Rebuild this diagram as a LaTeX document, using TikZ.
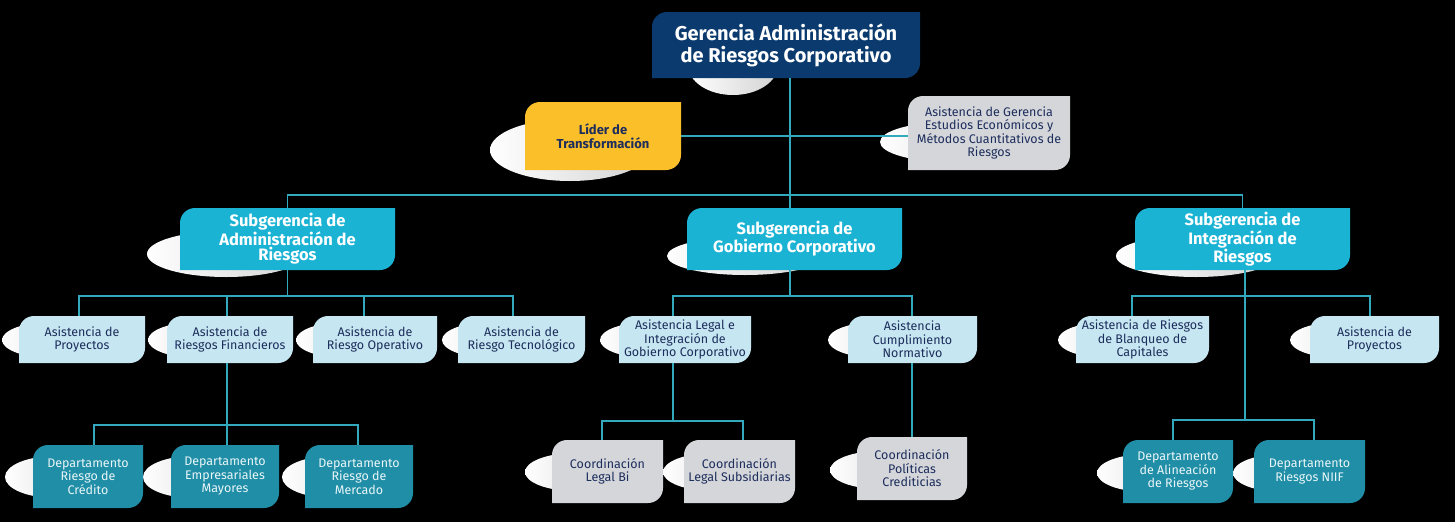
\documentclass[tikz,border=0pt]{standalone}
\usepackage{fontspec}
\setmainfont{Fira Sans}
\definecolor{navy}{HTML}{0B3B6E}
\definecolor{yel}{HTML}{FBBF2A}
\definecolor{grayb}{HTML}{D4D6DA}
\definecolor{cyanb}{HTML}{1BB3D4}
\definecolor{lightb}{HTML}{C6E7F1}
\definecolor{tealb}{HTML}{1F8EA6}
\definecolor{linec}{HTML}{33A9BD}
\definecolor{txtd}{HTML}{1D2D5C}
\definecolor{txtl}{HTML}{EAF6F8}
\tikzset{
  conn/.style={draw=linec, line width=1.1pt},
  obase/.style={rectangle, inner sep=0pt, align=center},
  tone/.style={text=white, font=\bfseries\fontsize{20}{22}\selectfont},
  ttwo/.style={text=white, font=\bfseries\fontsize{16.5}{15.5}\selectfont},
  tlid/.style={text=txtd, font=\bfseries\fontsize{13}{14.5}\selectfont},
  tthree/.style={text=txtd, font=\fontsize{12.5}{13.5}\selectfont},
  tfour/.style={text=txtl, font=\fontsize{12.5}{13.5}\selectfont},
  shadow/.style={left color=white, right color=gray!35},
}
% box with rounded top-left and bottom-right corners (radius 15)
\newcommand\obox[8]{%
  \fill[#2] (#4,#7) -- (#4,{#5+15}) .. controls (#4,{#5+6.7}) and ({#4+6.7},#5) .. ({#4+15},#5) -- (#6,#5)
     -- (#6,{#7-15}) .. controls (#6,{#7-6.7}) and ({#6-6.7},#7) .. ({#6-15},#7) -- cycle;
  \node[obase, #3, minimum width={(#6-#4)*1pt}, minimum height={(#7-#5)*1pt}] (#1) at ({(#4+#6)/2},{(#5+#7)/2}) {#8};
}
\newcommand\oell[4]{\shade[shadow] (#1,#2) ellipse [x radius=#3pt, y radius=#4pt];}
\begin{document}
\begin{tikzpicture}[x=1pt,y=-1pt]
\useasboundingbox[fill=black] (0,0) rectangle (1455,522);
% shadows
\oell{733}{65}{45}{30}
\oell{570}{150}{80}{31}
\oell{950}{142}{70}{20}
\oell{226}{254}{79}{23}
\oell{745}{256}{78}{19}
\oell{1196}{256}{80}{21}
\foreach \cx in {52,198,346,492,650,878,1108,1340}{\oell{\cx}{340}{50}{18}}
\foreach \cx in {55,193,332}{\oell{\cx}{477}{50}{21}}
\foreach \cx in {575,713}{\oell{\cx}{472}{50}{19}}
\oell{880}{470}{50}{19}
\foreach \cx in {1147,1283}{\oell{\cx}{473}{50}{19}}
% boxes
\obox{top}{navy}{tone}{652}{12}{920}{78}{Gerencia Administración\\de Riesgos Corporativo}
\obox{lider}{yel}{tlid}{525}{102}{681}{170}{Líder de\\Transformación}
\obox{asg}{grayb}{tthree}{908}{96}{1070}{170}{Asistencia de Gerencia\\Estudios Económicos y\\Métodos Cuantitativos de\\Riesgos}
\obox{sga}{cyanb}{ttwo}{180}{208}{395}{270}{Subgerencia de\\Administración de\\Riesgos}
\obox{sgc}{cyanb}{ttwo}{687}{208}{902}{270}{Subgerencia de\\Gobierno Corporativo}
\obox{sgi}{cyanb}{ttwo}{1135}{208}{1350}{270}{Subgerencia de\\Integración de\\Riesgos}
\obox{a1}{lightb}{tthree}{19}{316}{145}{363}{Asistencia de\\Proyectos}
\obox{a2}{lightb}{tthree}{167}{316}{293}{363}{Asistencia de\\Riesgos Financieros}
\obox{a3}{lightb}{tthree}{313}{316}{437}{363}{Asistencia de\\Riesgo Operativo}
\obox{a4}{lightb}{tthree}{458}{316}{585}{363}{Asistencia de\\Riesgo Tecnológico}
\obox{c1}{lightb}{tthree}{619}{316}{751}{363}{Asistencia Legal e\\Integración de\\Gobierno Corporativo}
\obox{c2}{lightb}{tthree}{848}{316}{977}{363}{Asistencia\\Cumplimiento\\Normativo}
\obox{i1}{lightb}{tthree}{1076}{316}{1209}{363}{Asistencia de Riesgos\\de Blanqueo de\\Capitales}
\obox{i2}{lightb}{tthree}{1310}{316}{1439}{363}{Asistencia de\\Proyectos}
\obox{d1}{tealb}{tfour}{33}{445}{143}{508}{Departamento\\Riesgo de\\Crédito}
\obox{d2}{tealb}{tfour}{171}{445}{279}{508}{Departamento\\Empresariales\\Mayores}
\obox{d3}{tealb}{tfour}{305}{445}{413}{508}{Departamento\\Riesgo de\\Mercado}
\obox{e1}{grayb}{tthree}{552}{440}{663}{503}{Coordinación\\Legal Bi}
\obox{e2}{grayb}{tthree}{684}{440}{795}{503}{Coordinación\\Legal Subsidiarias}
\obox{e3}{grayb}{tthree}{857}{437}{967}{500}{Coordinación\\Políticas\\Crediticias}
\obox{f1}{tealb}{tfour}{1123}{440}{1233}{503}{Departamento\\de Alineación\\de Riesgos}
\obox{f2}{tealb}{tfour}{1254}{440}{1365}{503}{Departamento\\Riesgos NIIF}
% connectors
\coordinate (x790) at (790,0);
\coordinate (h195) at (0,195);
\coordinate (h296) at (0,296);
\draw[conn] (top.south -| x790) -- (sgc.north -| x790);
\draw[conn] (lider.east) -- (lider.east -| asg.west);
\draw[conn] (sga.north) -- (sga.north |- h195) -- (sgi.north |- h195) -- (sgi.north);
% left branch
\coordinate (xa1) at (79,296);
\coordinate (xa2) at (227,296);
\coordinate (xa3) at (364,296);
\coordinate (xa4) at (513,296);
\draw[conn] (sga.south) -- (sga.south |- h296);
\draw[conn] (a1.north -| xa1) -- (xa1) -- (xa4) -- (a4.north -| xa4);
\draw[conn] (xa2) -- (a2.north -| xa2);
\draw[conn] (xa3) -- (a3.north -| xa3);
\coordinate (xd1) at (94,425);
\coordinate (xd2) at (227,425);
\coordinate (xd3) at (358,425);
\draw[conn] (a2.south -| xa2) -- (xd2);
\draw[conn] (d1.north -| xd1) -- (xd1) -- (xd3) -- (d3.north -| xd3);
\draw[conn] (xd2) -- (d2.north -| xd2);
% center branch
\coordinate (xc1) at (673,296);
\coordinate (xc2) at (912,296);
\draw[conn] (sgc.south -| x790) -- (x790 |- h296);
\draw[conn] (c1.north -| xc1) -- (xc1) -- (xc2) -- (c2.north -| xc2);
\coordinate (xe1) at (602,421);
\coordinate (xe2) at (743,421);
\draw[conn] (c1.south -| xc1) -- (xc1 |- xe1);
\draw[conn] (e1.north -| xe1) -- (xe1) -- (xe2) -- (e2.north -| xe2);
\draw[conn] (c2.south -| xc2) -- (e3.north -| xc2);
% right branch
\coordinate (x1245) at (1245,0);
\coordinate (xi1) at (1132,296);
\coordinate (xi2) at (1370,296);
\coordinate (xf1) at (1173,420);
\coordinate (xf2) at (1314,420);
\draw[conn] (sgi.south -| x1245) -- (x1245 |- xf1);
\draw[conn] (i1.north -| xi1) -- (xi1) -- (xi2) -- (i2.north -| xi2);
\draw[conn] (f1.north -| xf1) -- (xf1) -- (xf2) -- (f2.north -| xf2);
\end{tikzpicture}
\end{document}
